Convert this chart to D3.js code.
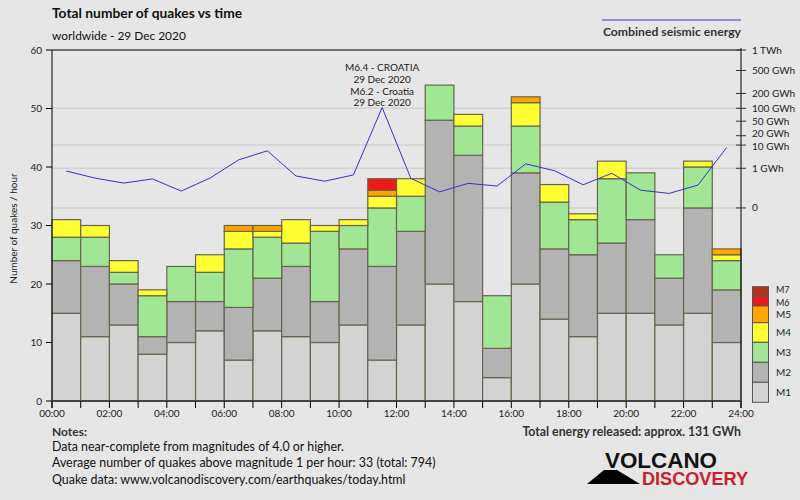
<!DOCTYPE html>
<html><head><meta charset="utf-8">
<script src="https://cdn.jsdelivr.net/npm/d3@7"></script>
<style>
html,body{margin:0;padding:0;background:#e6e6e6;}
svg{display:block;font-family:Lato,"Open Sans",sans-serif;}
</style></head>
<body>
<svg id="c" width="800" height="500"></svg>
<script>
// ---- data ----
const hours = [0,1,2,3,4,5,6,7,8,9,10,11,12,13,14,15,16,17,18,19,20,21,22,23];
const hourTickLabels = ["00:00","02:00","04:00","06:00","08:00","10:00","12:00","14:00","16:00","18:00","20:00","22:00","24:00"];
const magnitudes = ["M1","M2","M3","M4","M5","M6","M7"];
const m1 = [15,11,13,8,10,12,7,12,11,10,13,7,13,20,17,4,20,14,11,15,15,13,15,10];
const m2 = [9,12,7,3,7,5,9,9,12,7,13,16,16,28,25,5,19,12,14,12,16,8,18,9];
const m3 = [4,5,2,7,6,5,10,7,4,12,4,10,6,6,5,9,8,8,6,11,8,4,7,5];
const m4 = [3,2,2,1,0,3,3,1,4,1,1,2,3,0,2,0,4,3,1,3,0,0,1,1];
const m5 = [0,0,0,0,0,0,1,1,0,0,0,1,0,0,0,0,1,0,0,0,0,0,0,1];
const m6 = [0,0,0,0,0,0,0,0,0,0,0,2,0,0,0,0,0,0,0,0,0,0,0,0];
const m7 = [0,0,0,0,0,0,0,0,0,0,0,0,0,0,0,0,0,0,0,0,0,0,0,0];
const energyGWh = [0.70,0.24,0.097,0.21,0.014,0.24,2.6,6.2,0.34,0.14,0.40,104,0.23,0.011,0.092,0.051,1.7,0.73,0.068,0.51,0.018,0.0066,0.064,8.2];
const leftTicks = [0,10,20,30,40,50,60];
const energyTicks = [0,1,10,20,50,100,200,500,1000];
const energyTickLabels = ["0","1 GWh","10 GWh","20 GWh","50 GWh","100 GWh","200 GWh","500 GWh","1 TWh"];
const energyGrid = [0,1,10,100];
const annotationLines = ["M6.4 - CROATIA","29 Dec 2020","M6.2 - Croatia","29 Dec 2020"];
const annotationHour = 11;
const colors = ["#d3d3d3","#b3b3b3","#a0e694","#ffff33","#ffa500","#ee1a1a","#b3361a"];

// ---- layout ----
const svg = d3.select("#c");
const L = 52, R = 741, T = 50, B = 401;
const x = d3.scaleLinear().domain([0,24]).range([L,R]);
const y = d3.scaleLinear().domain([0,60]).range([B,T]);
const yE = d3.scalePow().exponent(0.2).domain([0,1000]).range([y(33), y(60)]);

svg.append("rect").attr("width",800).attr("height",500).attr("fill","#e6e6e6");

// gridlines
svg.append("g").selectAll("line").data(energyGrid).join("line")
  .attr("x1",L).attr("x2",R).attr("y1",d=>yE(d)).attr("y2",d=>yE(d))
  .attr("stroke","#d2d2d2").attr("stroke-width",1.5);

// stacked bars
const table = hours.map((h,i)=>({hour:h,M1:m1[i],M2:m2[i],M3:m3[i],M4:m4[i],M5:m5[i],M6:m6[i],M7:m7[i]}));
const stack = d3.stack().keys(magnitudes)(table);
const gb = svg.append("g");
stack.forEach((layer,k)=>{
  gb.append("g").selectAll("rect").data(layer.filter(d=>d[1]>d[0])).join("rect")
    .attr("x",d=>x(d.data.hour)).attr("width",x(1)-x(0))
    .attr("y",d=>y(d[1])).attr("height",d=>y(d[0])-y(d[1]))
    .attr("fill",colors[k]).attr("stroke","#66664f").attr("stroke-width",1.2);
});

// energy line
svg.append("path").datum(energyGWh)
  .attr("d",d3.line().x((d,i)=>x(hours[i]+0.5)).y(d=>yE(d)))
  .attr("fill","none").attr("stroke","#3333cc").attr("stroke-width",1);

// annotation
const ann = svg.append("text").attr("text-anchor","middle").attr("font-size",10).attr("fill","#222");
annotationLines.forEach((t,i)=>ann.append("tspan").attr("x",x(annotationHour+0.5)).attr("y",71+i*11.8).text(t));

// axes
const ax = svg.append("g").attr("stroke","#000");
ax.append("line").attr("x1",L).attr("x2",R).attr("y1",T).attr("y2",T);
ax.append("line").attr("x1",L).attr("x2",L).attr("y1",T).attr("y2",B+7);
ax.append("line").attr("x1",R).attr("x2",R).attr("y1",T-2).attr("y2",B+7);
svg.append("line").attr("x1",L).attr("x2",R).attr("y1",B).attr("y2",B).attr("stroke","#444").attr("stroke-width",2);

// left ticks
svg.append("g").selectAll("line").data(leftTicks).join("line")
  .attr("x1",L-6).attr("x2",L).attr("y1",d=>y(d)).attr("y2",d=>y(d)).attr("stroke","#000");
svg.append("g").selectAll("text").data(leftTicks).join("text")
  .attr("x",L-10).attr("y",d=>y(d)+3.5).attr("text-anchor","end").attr("font-size",10).attr("fill","#222").text(d=>d);

// bottom ticks
svg.append("g").selectAll("line").data(d3.range(0,25)).join("line")
  .attr("x1",d=>x(d)).attr("x2",d=>x(d)).attr("y1",B).attr("y2",B+7).attr("stroke","#000");
svg.append("g").selectAll("text").data(hourTickLabels).join("text")
  .attr("x",(d,i)=>x(i*2)).attr("y",B+16).attr("text-anchor","middle").attr("font-size",10).attr("fill","#222").text(d=>d);

// right ticks
svg.append("g").selectAll("line").data(energyTicks).join("line")
  .attr("x1",R-5).attr("x2",R+5).attr("y1",d=>yE(d)).attr("y2",d=>yE(d)).attr("stroke","#333");
svg.append("g").selectAll("text").data(energyTicks).join("text")
  .attr("x",R+11).attr("y",(d,i)=>yE(d)+3.5+(d===20?-2:0)+(d===10?1.5:0)).attr("font-size",10).attr("fill","#222")
  .text((d,i)=>energyTickLabels[i]);

// y label
svg.append("text").attr("transform","translate(17,"+((T+B)/2+3)+") rotate(-90)")
  .attr("text-anchor","middle").attr("font-size",10).attr("fill","#222").text("Number of quakes / hour");

// legend
const legY = [286.7,296,306,322.7,342.3,362.3,382.3,402.3];
const legOff = [-1.5,2,0,0,0,0,0];
const gl = svg.append("g");
magnitudes.forEach((m,i)=>{
  const k = 6-i;
  gl.append("rect").attr("x",752.5).attr("y",legY[i]).attr("width",16).attr("height",legY[i+1]-legY[i])
    .attr("fill",colors[k]).attr("stroke","#555").attr("stroke-width",1);
  gl.append("text").attr("x",776).attr("y",(legY[i]+legY[i+1])/2+3.2+legOff[i]).attr("font-size",i<2?9:10).attr("fill","#222").text(magnitudes[k]);
});

// titles
svg.append("text").attr("x",L).attr("y",18).attr("font-size",13.8).attr("font-weight","bold").attr("fill","#111").text("Total number of quakes vs time");
svg.append("text").attr("x",L).attr("y",40).attr("font-size",11.9).attr("fill","#111").text("worldwide - 29 Dec 2020");
svg.append("line").attr("x1",602).attr("x2",741).attr("y1",20).attr("y2",20).attr("stroke","#3333cc").attr("stroke-width",1);
svg.append("text").attr("x",741).attr("y",36).attr("text-anchor","end").attr("font-size",12.2).attr("font-weight","bold").attr("fill","#333").text("Combined seismic energy");

// notes
svg.append("text").attr("x",L).attr("y",436).attr("font-size",12).attr("font-weight","bold").attr("fill","#333").text("Notes:");
const notes = ["Data near-complete from magnitudes of 4.0 or higher.","Average number of quakes above magnitude 1 per hour: 33 (total: 794)","Quake data: www.volcanodiscovery.com/earthquakes/today.html"];
notes.forEach((t,i)=>svg.append("text").attr("x",L).attr("y",451+i*16.3).attr("font-size",12.4).attr("fill","#111").text(t));
svg.append("text").attr("x",R).attr("y",436).attr("text-anchor","end").attr("font-size",12.3).attr("font-weight","bold").attr("fill","#333").text("Total energy released: approx. 131 GWh");

// logo
svg.append("path").attr("d","M587,484 L604,470 L617,470 L640,484 Z").attr("fill","#000");
svg.append("text").attr("x",605).attr("y",468).attr("font-size",22).attr("font-weight","bold").attr("font-family","Liberation Sans, Arial, sans-serif")
  .attr("textLength",112).attr("lengthAdjust","spacingAndGlyphs").attr("fill","#111").text("VOLCANO");
svg.append("text").attr("x",642).attr("y",484.5).attr("font-size",19).attr("font-weight","bold").attr("font-family","Liberation Sans, Arial, sans-serif")
  .attr("textLength",106).attr("lengthAdjust","spacingAndGlyphs").attr("fill","#c8202e").text("DISCOVERY");
</script>
</body></html>
